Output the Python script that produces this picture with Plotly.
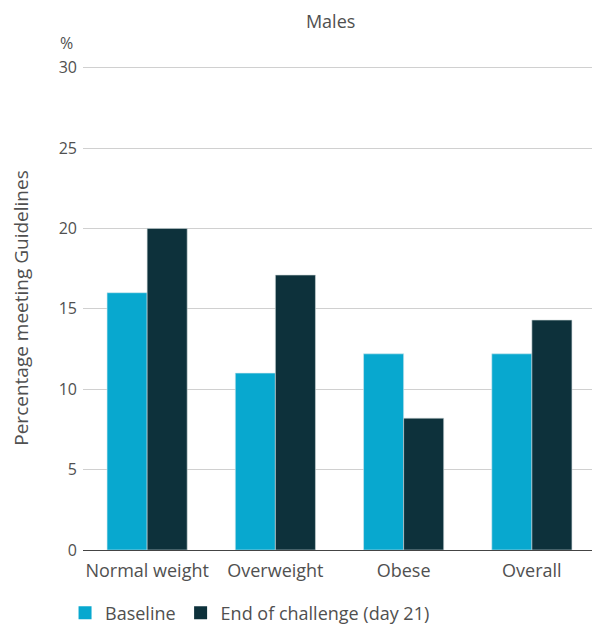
import plotly.graph_objects as go

categories = ["Normal weight", "Overweight", "Obese", "Overall"]
baseline = [16.0, 11.0, 12.2, 12.2]
end_challenge = [20.0, 17.1, 8.2, 14.3]
series_names = ["Baseline", "End of challenge (day 21)"]
series_colors = ["#08a8cf", "#0d313b"]
y_ticks = [0, 5, 10, 15, 20, 25, 30]

font_family = "Open Sans"
text_color = "#505050"

fig = go.Figure()
fig.add_trace(go.Bar(x=categories, y=baseline, name=series_names[0], showlegend=False,
                     marker=dict(color=series_colors[0], line=dict(color="#cfe6ec", width=0.6))))
fig.add_trace(go.Bar(x=categories, y=end_challenge, name=series_names[1], showlegend=False,
                     marker=dict(color=series_colors[1], line=dict(color="#cfd8da", width=0.6))))
# legend entries with larger square swatches
for name, color in zip(series_names, series_colors):
    fig.add_trace(go.Scatter(x=[None], y=[None], mode="markers", name=name,
                             marker=dict(symbol="square", size=13, color=color)))

# page body has an 8px default margin, so the figure is sized to fit the window
fig.update_layout(
    width=592, height=617,
    margin=dict(l=75, r=4, t=58, b=75, autoexpand=False),
    paper_bgcolor="white", plot_bgcolor="white",
    font=dict(family=font_family, size=18, color=text_color),
    barmode="group", bargap=0.375, bargroupgap=0,
    title=dict(text="Males", x=0.545, xanchor="center", y=0.977, yanchor="middle",
               font=dict(size=18, color=text_color)),
    legend=dict(orientation="h", x=-0.035, xanchor="left", y=-0.092, yanchor="top",
                font=dict(size=18, color=text_color), traceorder="normal",
                itemwidth=30),
    showlegend=True,
)
fig.update_xaxes(showgrid=False, showline=True, linecolor="#444444", linewidth=1,
                 ticks="", automargin=False, ticklabelstandoff=4,
                 tickfont=dict(size=18, color=text_color))
fig.update_yaxes(range=[0, 30.1], tickvals=y_ticks, showgrid=True, gridcolor="#d0d0d0",
                 gridwidth=1, zeroline=False, showline=False, ticks="", automargin=False,
                 ticklabelstandoff=5,
                 tickfont=dict(size=16, color=text_color),
                 title=dict(text="Percentage meeting Guidelines", standoff=30,
                            font=dict(size=19, color=text_color)))
fig.add_annotation(text="%", xref="paper", yref="paper", x=-0.015, y=1.048,
                   xanchor="right", yanchor="middle", showarrow=False,
                   font=dict(size=16, color=text_color))

fig.write_html("out.html")
